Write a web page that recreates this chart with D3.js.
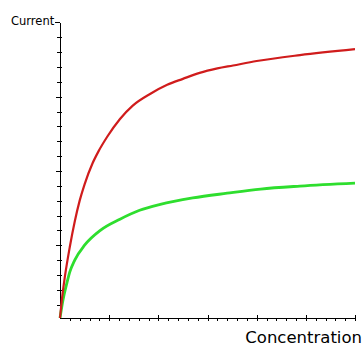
<!DOCTYPE html>
<html>
<head>
<meta charset="utf-8">
<script src="https://cdn.jsdelivr.net/npm/d3@7"></script>
<style>
  body { margin: 0; background: #fff; }
  svg { display: block; }
  .axis path, .axis line { stroke: #000; shape-rendering: crispEdges; }
</style>
</head>
<body>
<div id="chart"></div>
<script>
// values (arbitrary units, one unit per tick)
var redConc = [0, 0.2, 0.5, 1, 1.5, 2, 2.5, 3.3, 3.9, 4.8, 6.1, 7.4, 9.2, 10.9, 12.5, 14.2, 16, 17.6, 20, 24.4, 30];
var redCurrent = [0, 1.3, 2.8, 4.8, 6.5, 7.9, 9.0, 10.4, 11.2, 12.2, 13.4, 14.3, 15.1, 15.7, 16.1, 16.5, 16.8, 17.0, 17.3, 17.7, 18.1];
var greenConc = [0, 0.3, 0.7, 1, 1.5, 2.5, 4.1, 6.1, 8.1, 10.2, 13.5, 17, 20.4, 24.4, 30];
var greenCurrent = [0, 1.2, 2.35, 3.1, 3.9, 4.9, 5.9, 6.65, 7.25, 7.65, 8.08, 8.4, 8.68, 8.88, 9.08];

var xMax = 30;
var yMax = 19.9;
var xTicks = d3.range(1, xMax + 1);
var yTicks = d3.range(yMax, 0.5, -1);

var width = 364, height = 347;

var svg = d3.select("#chart")
  .append("svg")
  .attr("width", width)
  .attr("height", height);

var x = d3.scaleLinear().domain([0, xMax]).range([60, 355]);
var y = d3.scaleLinear().domain([0, yMax]).range([318, 22.4]);

// x axis, every 5th tick also sticks up
var gx = svg.append("g")
  .attr("class", "axis")
  .attr("transform", "translate(0,318)")
  .call(d3.axisBottom(x).tickValues(xTicks).tickSizeInner(3).tickSizeOuter(0).tickFormat(""));
gx.selectAll(".tick line")
  .attr("y1", function (d) { return d % 5 === 0 ? -3 : 0; });

// y axis, ticks counted down from the top
var gy = svg.append("g")
  .attr("class", "axis")
  .attr("transform", "translate(60,0)")
  .call(d3.axisLeft(y).tickValues(yTicks).tickSizeInner(3).tickSizeOuter(0).tickFormat(""));
gy.selectAll(".tick line")
  .attr("x1", function (d, i) { return i === 0 ? 0 : 2; })
  .attr("x2", function (d, i) { return i === 0 ? -5 : (i % 5 === 0 ? -4.5 : -3); });

var line = d3.line()
  .x(function (d) { return x(d[0]); })
  .y(function (d) { return y(d[1]); })
  .curve(d3.curveMonotoneX);

svg.append("path")
  .datum(d3.zip(greenConc, greenCurrent))
  .attr("fill", "none")
  .attr("stroke", "#2ede2e")
  .attr("stroke-width", 2.8)
  .attr("d", line);

svg.append("path")
  .datum(d3.zip(redConc, redCurrent))
  .attr("fill", "none")
  .attr("stroke", "#d01c1c")
  .attr("stroke-width", 2.2)
  .attr("d", line);

svg.append("text")
  .attr("x", 11)
  .attr("y", 25)
  .style("font-family", "DejaVu Sans")
  .style("font-size", "11.5px")
  .text("Current");

svg.append("text")
  .attr("x", 362)
  .attr("y", 342.5)
  .attr("text-anchor", "end")
  .style("font-family", "DejaVu Sans")
  .style("font-size", "16.5px")
  .text("Concentration");
</script>
</body>
</html>
